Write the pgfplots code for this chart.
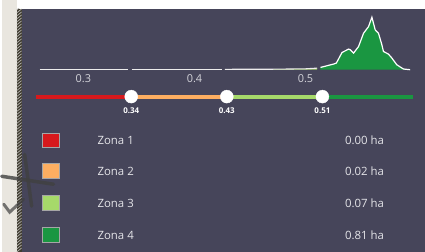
\documentclass[border=0pt]{standalone}
\usepackage{pgfplots}
\pgfplotsset{compat=1.18}
\usepackage{fontspec}
\setmainfont{Open Sans}
\definecolor{panel}{HTML}{46455A}
\definecolor{beige}{HTML}{E9E6DF}
\definecolor{stripe}{HTML}{403C30}
\definecolor{zr}{HTML}{D7191C}
\definecolor{zo}{HTML}{FDAE61}
\definecolor{zl}{HTML}{A6D96A}
\definecolor{zg}{HTML}{1A9641}
\definecolor{txt}{HTML}{E4E4E8}
\definecolor{tick}{HTML}{D4D4DA}
\begin{document}
\begin{tikzpicture}[x=1bp,y=1bp]
% background
\fill[beige] (0,0) rectangle (425,253);
\fill[white] (15,244) rectangle (425,253);
\fill[stripe] (15,0) rectangle (20,244);
\begin{scope}
\clip (15,0) rectangle (20,244);
\foreach \k in {0,3,...,250} {\draw[gray!50!beige, line width=0.7bp] (15,\k) -- (20,\k+4);}
\end{scope}
\fill[panel] (20,0) rectangle (425,244);
% scribbles
\draw[black!75, opacity=0.8, line width=3.5bp, line cap=round] (0,76) -- (52,68);
\draw[black!75, opacity=0.8, line width=3.5bp, line cap=round] (23,98) -- (30,46);
\draw[black!75, opacity=0.7, line width=3bp, line cap=round] (2,48) -- (8,40) -- (22,53);
% histogram
\begin{axis}[at={(37.4bp,183bp)}, anchor=south west, scale only axis,
  width=379.1bp, height=60bp, xmin=0.26, xmax=0.6, ymin=0, ymax=60,
  hide axis, clip=false]
\addplot[draw=white!85!gray, line width=1.1bp] coordinates {(0.2605,0.4)(0.3405,0.4)};
\addplot[draw=white!85!gray, line width=1.1bp] coordinates {(0.3435,0.4)(0.4245,0.4)};
\addplot[fill=zl, draw=none] coordinates {(0.4275,0.4)(0.47,0.5)(0.50,0.9)(0.5105,1.6)} \closedcycle;
\addplot[draw=white!85!gray, line width=1.1bp] coordinates {(0.4275,0.4)(0.47,0.5)(0.50,0.9)(0.5105,1.6)};
\addplot[fill=zg, draw=none] coordinates {
(0.5135,2.3)(0.5254,5.7)(0.5278,6.7)(0.5329,17.3)(0.5388,20.7)(0.5404,20)
(0.5433,16.7)(0.5478,23.3)(0.5523,36.7)(0.5568,43.3)(0.5598,52.7)(0.5628,40)
(0.5657,36.7)(0.5688,25)(0.5702,18.3)(0.5747,15.7)(0.5778,11.7)(0.5822,5)
(0.5882,0.7)(0.5942,0)} \closedcycle;
\addplot[draw=white, line width=1.2bp] coordinates {
(0.5135,2.3)(0.5254,5.7)(0.5278,6.7)(0.5329,17.3)(0.5388,20.7)(0.5404,20)
(0.5433,16.7)(0.5478,23.3)(0.5523,36.7)(0.5568,43.3)(0.5598,52.7)(0.5628,40)
(0.5657,36.7)(0.5688,25)(0.5702,18.3)(0.5747,15.7)(0.5778,11.7)(0.5822,5)
(0.5882,0.7)(0.5942,0)};
\foreach \v in {0.3,0.4,0.5}{
  \edef\tmp{\noexpand\node[text=tick, font=\noexpand\fontsize{11}{12}\noexpand\selectfont, yshift=-9bp] at (axis cs:\v,0) {\v};}\tmp}
\end{axis}
% slider
\begin{axis}[at={(34bp,156bp)}, anchor=west, scale only axis,
  width=384bp, height=20bp, xmin=0, xmax=4, ymin=-1, ymax=1,
  hide axis, clip=false]
\addplot[zr, line width=4bp] coordinates {(0,0)(1,0)};
\addplot[zo, line width=4bp] coordinates {(1,0)(2,0)};
\addplot[zl, line width=4bp] coordinates {(2,0)(3,0)};
\addplot[zg, line width=4bp] coordinates {(3,0)(3.95,0)};
\addplot[only marks, mark=*, mark size=6.5bp, mark options={fill=white, draw=white}] coordinates {(1,0)(2,0)(3,0)};
\node[text=white, font=\bfseries\fontsize{8}{9}\selectfont, yshift=-14bp] at (axis cs:1,0) {0.34};
\node[text=white, font=\bfseries\fontsize{8}{9}\selectfont, yshift=-14bp] at (axis cs:2,0) {0.43};
\node[text=white, font=\bfseries\fontsize{8}{9}\selectfont, yshift=-14bp] at (axis cs:3,0) {0.51};
\end{axis}
% legend rows
\foreach \c/\yy/\lab/\val in {zr/112/Zona 1/0.00 ha, zo/81/Zona 2/0.02 ha, zl/49/Zona 3/0.07 ha, zg/17/Zona 4/0.81 ha}{
  \filldraw[fill=\c, draw=gray!70, line width=0.8bp] (40.5,\yy-7.5) rectangle (57.5,\yy+7.5);
  \node[anchor=west, text=txt, font=\fontsize{11.5}{13}\selectfont, inner sep=0pt] at (96,\yy) {\lab};
  \node[anchor=east, text=txt, font=\fontsize{11.5}{13}\selectfont, inner sep=0pt] at (384,\yy) {\val};
}
\end{tikzpicture}
\end{document}
